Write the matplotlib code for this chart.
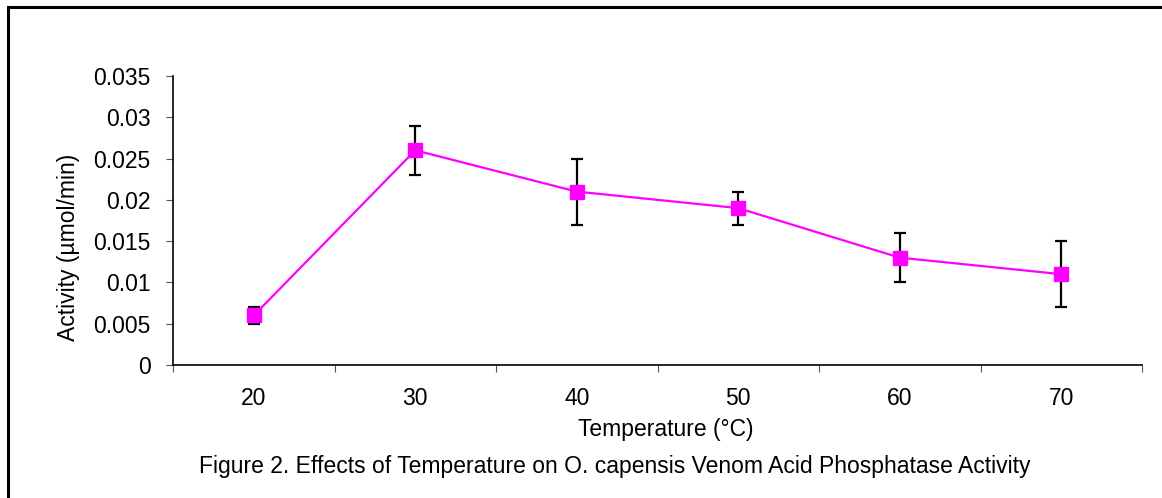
import numpy as np
import matplotlib.pyplot as plt
from matplotlib.patches import Rectangle

plt.rcParams['font.family'] = ['Liberation Sans', 'DejaVu Sans']

# data
temps = ['20', '30', '40', '50', '60', '70']
activity = [0.006, 0.026, 0.021, 0.019, 0.013, 0.011]
err = [0.001, 0.003, 0.004, 0.002, 0.003, 0.004]
yticks = [0, 0.005, 0.01, 0.015, 0.02, 0.025, 0.03, 0.035]
ylabels = ['0', '0.005', '0.01', '0.015', '0.02', '0.025', '0.03', '0.035']

W, H = 1162, 498
fs = 16.5
fig = plt.figure(figsize=(W / 100, H / 100), dpi=100)
ax = fig.add_axes([173 / W, 1 - 365 / H, (1142 - 173) / W, (365 - 76) / H])

x = np.arange(len(temps))
ax.errorbar(x, activity, yerr=err, fmt='none', ecolor='black',
            elinewidth=1.6, capsize=4, capthick=1.6, zorder=2)
ax.plot(x, activity, color='#FF00FF', linewidth=1.6, marker='s',
        markersize=10, markeredgecolor='#FF00FF', zorder=3)

ax.set_xlim(-0.5, len(temps) - 0.5)
ax.set_ylim(0, 0.035)
ax.set_yticks(yticks)
ax.set_yticklabels(ylabels, fontsize=fs)
# category ticks sit between the labels
ax.set_xticks(np.arange(-0.5, len(temps), 1.0))
ax.set_xticklabels([])
ax.set_xticks(x, minor=True)
ax.set_xticklabels(temps, minor=True, fontsize=fs)
ax.tick_params(axis='x', which='minor', length=0, pad=16)
ax.tick_params(axis='x', which='major', length=5, color='#555555', direction='out')
ax.tick_params(axis='y', length=5, color='#555555', direction='out', pad=11)

for s in ['top', 'right']:
    ax.spines[s].set_visible(False)
for s in ['left', 'bottom']:
    ax.spines[s].set_linewidth(1.2)

fig.text(666 / W, 1 - 429 / H, 'Temperature (°C)', fontsize=fs,
         ha='center', va='center')
fig.text(69 / W, 1 - 247 / H, 'Activity (µmol/min)', fontsize=fs,
         ha='center', va='center', rotation=90)
fig.text(615 / W, 1 - 466 / H,
         'Figure 2. Effects of Temperature on O. capensis Venom Acid Phosphatase Activity',
         fontsize=fs, ha='center', va='center')

# outer frame, cut off at the right and bottom
fig.patches.append(Rectangle((8 / W, -0.1), 1.1, 1 - 7.5 / H + 0.1,
                             transform=fig.transFigure, fill=False,
                             edgecolor='black', linewidth=2.2, clip_on=False))

fig.savefig('out.png', dpi=100)
